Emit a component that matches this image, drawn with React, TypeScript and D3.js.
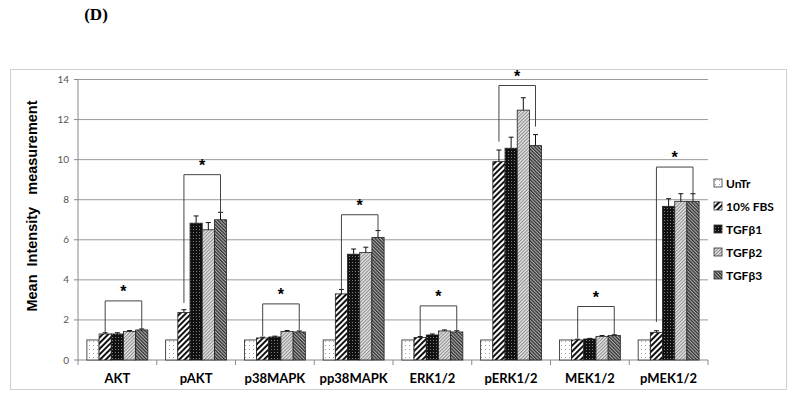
import React from "react";
import * as d3 from "d3";

const categories = ["AKT", "pAKT", "p38MAPK", "pp38MAPK", "ERK1/2", "pERK1/2", "MEK1/2", "pMEK1/2"];
const seriesNames = ["UnTr", "10% FBS", "TGFβ1", "TGFβ2", "TGFβ3"];

// values per series (one array per series, indexed by category)
const untr = [1, 1, 1, 1, 1, 1, 1, 1];
const fbs = [1.3, 2.37, 1.1, 3.3, 1.12, 9.9, 1.0, 1.38];
const tgfb1 = [1.3, 6.83, 1.15, 5.28, 1.25, 10.57, 1.05, 7.67];
const tgfb2 = [1.42, 6.5, 1.42, 5.37, 1.45, 12.47, 1.18, 7.92];
const tgfb3 = [1.5, 7.0, 1.4, 6.12, 1.4, 10.7, 1.22, 7.92];

// error magnitudes
const untrErr = [0, 0, 0, 0, 0, 0, 0, 0];
const fbsErr = [0.06, 0.14, 0.04, 0.22, 0.05, 0.58, 0.04, 0.08];
const tgfb1Err = [0.06, 0.36, 0.04, 0.26, 0.05, 0.55, 0.03, 0.38];
const tgfb2Err = [0.05, 0.36, 0.05, 0.26, 0.05, 0.62, 0.04, 0.38];
const tgfb3Err = [0.05, 0.37, 0.05, 0.34, 0.06, 0.55, 0.04, 0.38];

// significance brackets: horizontal level, left leg end, right leg end
const bracketLevel = [2.95, 9.25, 2.8, 7.25, 2.7, 13.7, 2.67, 9.63];
const bracketLeftEnd = [1.35, 2.85, 1.2, 3.5, 1.2, 10.9, 1.1, 1.9];
const bracketRightEnd = [1.55, 7.35, 1.5, 6.45, 1.5, 11.65, 1.3, 8.25];

const yTicks = [0, 2, 4, 6, 8, 10, 12, 14];

const seriesValues = [untr, fbs, tgfb1, tgfb2, tgfb3];
const seriesErrors = [untrErr, fbsErr, tgfb1Err, tgfb2Err, tgfb3Err];
const fills = ["url(#pDots)", "url(#pWide)", "url(#pBlack)", "url(#pLight)", "url(#pDark)"];

export default function App() {
  const left = 78, right = 708, top = 79.5, bottom = 360;
  const x0 = d3.scaleBand<string>().domain(categories).range([left, right]);
  const inset = 8.9;
  const x1 = d3.scaleBand<string>().domain(seriesNames).range([inset, x0.bandwidth() - inset]);
  const y = d3.scaleLinear().domain([0, 14]).range([bottom, top]);
  const bw = x1.bandwidth();
  const boundaries = categories.map((c) => x0(c) as number).concat([right]);

  return (
    <svg width={800} height={400} style={{ position: "absolute", left: 0, top: 0, background: "#fff" }}>
      <defs>
        <pattern id="pDots" width={4} height={4} patternUnits="userSpaceOnUse">
          <rect width={4} height={4} fill="#fff" />
          <rect x={1} y={1} width={0.9} height={0.9} fill="#888" />
        </pattern>
        <pattern id="pWide" width={4} height={4} patternUnits="userSpaceOnUse" patternTransform="rotate(45)">
          <rect width={4} height={4} fill="#fff" />
          <rect width={2} height={4} fill="#111" />
        </pattern>
        <pattern id="pBlack" width={3} height={3} patternUnits="userSpaceOnUse">
          <rect width={3} height={3} fill="#111" />
          <rect x={1} y={1} width={0.8} height={0.8} fill="#bbb" />
        </pattern>
        <pattern id="pLight" width={2.4} height={2.4} patternUnits="userSpaceOnUse" patternTransform="rotate(45)">
          <rect width={2.4} height={2.4} fill="#e4e4e4" />
          <rect width={1} height={2.4} fill="#8a8a8a" />
        </pattern>
        <pattern id="pDark" width={2.4} height={2.4} patternUnits="userSpaceOnUse" patternTransform="rotate(-45)">
          <rect width={2.4} height={2.4} fill="#b0b0b0" />
          <rect width={1.3} height={2.4} fill="#303030" />
        </pattern>
      </defs>

      <text x={96} y={20} textAnchor="middle" fontFamily="Liberation Serif" fontWeight="bold" fontSize={17}>(D)</text>

      <rect x={10.5} y={69.5} width={776} height={320} fill="none" stroke="#cfcfcf" strokeWidth={1} />

      {yTicks.filter((t) => t > 0).map((t) => (
        <line key={"g" + t} x1={left} x2={right} y1={y(t)} y2={y(t)} stroke="#9a9a9a" strokeWidth={1} />
      ))}
      <line x1={left} x2={left} y1={top} y2={bottom} stroke="#8a8a8a" />
      <line x1={left} x2={right} y1={bottom} y2={bottom} stroke="#8a8a8a" />
      {yTicks.map((t) => (
        <g key={"t" + t}>
          <line x1={left - 4} x2={left} y1={y(t)} y2={y(t)} stroke="#8a8a8a" />
          <text x={left - 9} y={y(t) + 3.5} textAnchor="end" fontFamily="Lato" fontSize={10} fill="#555">{t}</text>
        </g>
      ))}
      {boundaries.map((b, i) => (
        <line key={"b" + i} x1={b} x2={b} y1={bottom} y2={bottom + 5} stroke="#8a8a8a" />
      ))}

      <text
        transform={`translate(37,206) rotate(-90)`}
        textAnchor="middle"
        fontFamily="Liberation Sans"
        fontWeight="bold"
        fontSize={14.5}
        style={{ whiteSpace: "pre" }}
      >{"Mean  Intensity   measurement"}</text>

      {categories.map((c, ci) => (
        <g key={c}>
          {seriesNames.map((s, si) => {
            const v = seriesValues[si][ci];
            const e = seriesErrors[si][ci];
            const bx = (x0(c) as number) + (x1(s) as number);
            const cx = bx + bw / 2;
            return (
              <g key={s}>
                <rect x={bx} y={y(v)} width={bw} height={bottom - y(v)} fill={fills[si]} stroke="#222" strokeWidth={0.8} />
                {e > 0 && (
                  <g stroke="#111" strokeWidth={1}>
                    <line x1={cx} x2={cx} y1={y(v)} y2={y(v + e)} />
                    <line x1={cx - 2.5} x2={cx + 2.5} y1={y(v + e)} y2={y(v + e)} />
                  </g>
                )}
              </g>
            );
          })}
          {(() => {
            const lx = (x0(c) as number) + (x1(seriesNames[1]) as number) + bw / 2;
            const rx = (x0(c) as number) + (x1(seriesNames[4]) as number) + bw / 2;
            const by = y(bracketLevel[ci]);
            return (
              <g>
                <path
                  d={`M${lx},${y(bracketLeftEnd[ci])}V${by}H${rx}V${y(bracketRightEnd[ci])}`}
                  fill="none"
                  stroke="#444"
                  strokeWidth={1}
                />
                <text x={(lx + rx) / 2} y={by - 4} textAnchor="middle" fontFamily="Liberation Sans" fontWeight="bold" fontSize={16}>*</text>
              </g>
            );
          })()}
          <text x={(x0(c) as number) + x0.bandwidth() / 2} y={383} textAnchor="middle" fontFamily="Lato" fontWeight="bold" fontSize={13}>{c}</text>
        </g>
      ))}

      {seriesNames.map((s, si) => (
        <g key={"l" + s} transform={`translate(714,${183 + si * 23})`}>
          <rect x={0} y={-4} width={8} height={8} fill={fills[si]} stroke="#333" strokeWidth={0.8} />
          <text x={12} y={4.5} fontFamily="Lato" fontWeight="bold" fontSize={12}>{s}</text>
        </g>
      ))}
    </svg>
  );
}
